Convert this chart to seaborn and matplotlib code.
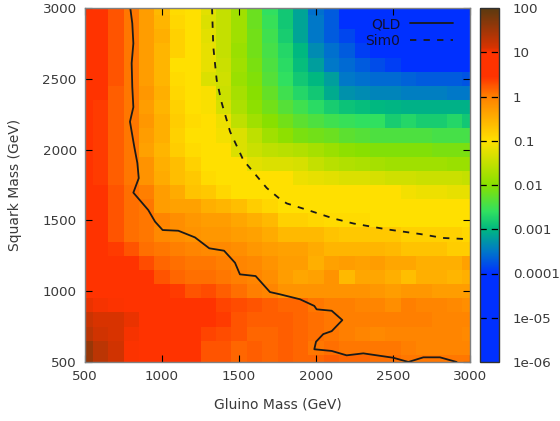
import numpy as np
import pandas as pd
import matplotlib
matplotlib.use("Agg")
import matplotlib.pyplot as plt
from matplotlib.colors import LinearSegmentedColormap, LogNorm
import seaborn as sns

gluino = list(range(500, 3100, 100))
squark = list(range(3000, 400, -100))

# log10 of the plotted quantity, one row per squark mass (top row = 3000 GeV)
r3000 = [.5,.5,.25,.05,-.3,-.6,-.95,-1,-1.25,-1.5,-1.8,-2.2,-2.6, -2.85,-3.15,-3.55,-3.7,-4.2,-4.6,-5,-5,-5,-5,-5,-5,-5]
r2900 = [.5,.5,.25,.05,-.3,-.55,-.9,-1,-1.3,-1.5,-1.8,-2.2,-2.55, -2.85,-3.15,-3.5,-3.7,-4,-4.3,-5,-5,-5,-5,-5,-5,-5]
r2800 = [.55,.45,.25,.05,-.3,-.5,-.85,-1,-1.25,-1.5,-1.8,-2.15,-2.5, -2.8,-3.15,-3.5,-3.7,-3.85,-4.2,-5,-5,-5,-5,-5,-5,-5]
r2700 = [.7,.45,.25,.05,-.3,-.55,-.85,-1,-1.2,-1.5,-1.85,-2.15,-2.45, -2.7,-3,-3.35,-3.55,-3.7,-3.9,-4.1,-4.5,-4.5,-5,-5,-5,-5]
r2600 = [.7,.45,.25,.05,-.3,-.55,-1,-1,-1.2,-1.45,-1.8,-2.1,-2.4, -2.65,-2.95,-3.2,-3.5,-3.6,-3.7,-3.8,-3.9,-4,-4,-4,-4.1,-4.1]
r2500 = [.55,.45,.25,.05,-.3,-.55,-.95,-1,-1.3,-1.4,-1.85,-2.05,-2.35, -2.6,-2.85,-3,-3.2,-3.5,-3.55,-3.6,-3.6,-3.65,-3.7,-3.7,-3.7,-3.75]
r2400 = [.5,.45,.2,.05,-.25,-.5,-.9,-1,-1.05,-1.45,-1.75,-2,-2.25, -2.5,-2.7,-2.85,-3.1,-3.3,-3.35,-3.4,-3.4,-3.45,-3.45,-3.45,-3.5,-3.5]
r2300 = [.5,.4,.2,.05,-.3,-.55,-.85,-1,-1.05,-1.35,-1.7,-1.95,-2.15, -2.35,-2.5,-2.65,-2.8,-2.9,-2.95,-3,-3.02,-3.05,-3.05,-3.05,-3.05,-3.05]
r2200 = [.5,.4,.2,.05,-.25,-.5,-.8,-.95,-1,-1.15,-1.55,-1.8,-2.0, -2.15,-2.3,-2.4,-2.5,-2.55,-2.6,-2.6,-2.8,-2.7,-2.8,-2.8,-2.7,-2.85]
r2100 = [.5,.4,.2,.05,-.3,-.5,-.85,-1,-1,-1.1,-1.3,-1.55,-1.8, -1.95,-2.1,-2.15,-2.2,-2.3,-2.35,-2.4,-2.4,-2.4,-2.4,-2.45,-2.45,-2.45]
r2000 = [.5,.4,.2,.05,-.35,-.55,-.8,-.95,-1,-1,-1.3,-1.45,-1.55, -1.6,-1.65,-1.75,-1.85,-1.95,-2,-2.05,-2.05,-2.05,-2.05,-2.1,-2.1,-2.1]
r1900 = [.55,.4,.2,.05,-.2,-.5,-.65,-.85,-1,-1,-1,-1.25,-1.3, -1.3,-1.35,-1.5,-1.6,-1.65,-1.7,-1.75,-1.8,-1.8,-1.8,-1.8,-1.85,-1.85]
r1800 = [.55,.4,.2,.05,-.2,-.45,-.65,-.75,-.95,-1,-1,-1,-1, -1.0,-1.15,-1.2,-1.25,-1.3,-1.3,-1.35,-1.4,-1.4,-1.45,-1.45,-1.45,-1.5]
r1700 = [.95,.55,.25,.1,0,-.3,-.45,-.7,-.75,-.9,-1,-1,-1, -1,-1,-1,-1,-1,-1,-1,-1,-1.1,-1.15,-1.15,-1.2,-1.2]
r1600 = [.7,.55,.25,.1,.05,-.3,-.35,-.35,-.5,-.55,-.65,-.8,-.9, -1,-1,-1,-1,-1,-1,-1,-1,-1,-1,-1,-1,-1]
r1500 = [.6,.55,.25,.1,.05,-.05,-.15,-.25,-.3,-.3,-.4,-.5,-.6, -.85,-.85,-.9,-.95,-.95,-.95,-1,-1,-1,-1,-1,-1,-1]
r1400 = [.6,.55,.25,.1,.05,-.1,-.15,-.2,-.25,-.25,-.3,-.35,-.45, -.6,-.6,-.6,-.7,-.75,-.75,-.75,-.75,-.85,-.85,-.85,-.85,-.9]
r1300 = [.9,.55,.4,.25,.1,.05,0,-.05,-.1,-.1,-.15,-.25,-.3, -.35,-.35,-.45,-.55,-.55,-.55,-.55,-.6,-.7,-.7,-.7,-.8,-.8]
r1200 = [.7,.55,.55,.5,.3,.15,.1,.05,.05,0,-.05,-.1,-.2, -.3,-.3,-.5,-.35,-.3,-.35,-.3,-.4,-.4,-.5,-.5,-.5,-.35]
r1100 = [.7,.6,.55,.5,.5,.25,.15,.1,.1,.05,0,-.05,-.15, -.3,-.4,-.35,-.2,-.6,-.4,-.4,-.5,-.65,-.5,-.5,-.55,-.5]
r1000 = [.75,.6,.55,.5,.5,.45,.4,.25,.3,.2,.1,0,-.05, -.2,-.2,-.2,-.2,-.2,-.2,-.25,-.3,-.25,-.25,-.3,-.3,-.3]
r900 = [1.05,1.02,1.0,.9,.6,.6,.6,.55,.5,.35,.3,.25,.2, .15,.15,.05,0,0,-.05,-.05,-.15,0,-.05,-.05,-.1,-.15]
r800 = [1.2,1.1,1.1,1.05,.6,.6,.6,.6,.6,.4,.25,.2,.2, .2,.15,.1,.05,0,0,0,0,0,0,-.05,-.05,-.05]
r700 = [1.3,1.15,1.1,1.02,.6,.6,.6,.55,.35,.3,.25,.15,.15, .2,.15,.1,.05,0,-.05,-.1,-.05,-.05,-.05,-.05,-.05,-.1]
r600 = [1.55,1.3,1.15,1.0,.6,.6,.5,.5,.25,.25,.15,.2,.15, .2,.15,.05,.1,.05,.05,.05,.05,0,-.05,-.05,-.05,-.05]
r500 = [1.55,1.3,1.15,1.0,.6,.6,.5,.5,.25,.25,.15,.2,.15, .2,.15,.15,.2,.15,.15,.1,.1,.05,.05,.05,.05,.05]

rows = [r3000, r2900, r2800, r2700, r2600, r2500, r2400, r2300, r2200, r2100, r2000, r1900, r1800,
        r1700, r1600, r1500, r1400, r1300, r1200, r1100, r1000, r900, r800, r700, r600, r500]

qld_x = [794,807,814,803,807,814,792,820,840,849,814,911,955,1004,1106,1214,1307,1403,1474,1506,1608,1701,1766,1896,1989,2004,2102,2171,2102,2047,2000,1989,2102,2199,2307,2502,2600,2697,2805,2913]
qld_y = [3000,2892,2750,2610,2444,2300,2197,2020,1905,1798,1696,1573,1491,1432,1427,1380,1303,1286,1201,1119,1107,994,978,943,896,872,862,796,718,697,643,590,578,547,561,530,500,533,533,500]
sim_x = [1325,1333,1355,1388,1442,1528,1680,1766,1810,1961,2112,2244,2459,2675,2825,3000]
sim_y = [3000,2727,2492,2329,2127,1926,1729,1651,1620,1568,1514,1478,1437,1404,1376,1367]

cbar_ticks = [1e-6, 1e-5, 1e-4, 1e-3, 1e-2, 1e-1, 1, 10, 100]
cbar_labels = ["1e-06", "1e-05", "0.0001", "0.001", "0.01", "0.1", "1", "10", "100"]

sns.set_style("white")
plt.rcParams["font.family"] = ["DejaVu Sans"]
TXT = "#3a3a3a"

# palette nodes on the log10 axis (-6 .. 2)
nodes = [(-6, "#0030ff"), (-4, "#0030ff"), (-3.5, "#0078c8"), (-3, "#00b880"), (-2.6, "#30e060"),
         (-2, "#88e000"), (-1, "#ffe000"), (0, "#ff8000"), (0.45, "#ff3300"), (1, "#ff3300"),
         (1.1, "#d83300"), (2, "#5a3a10")]
cmap = LinearSegmentedColormap.from_list("gp", [((v + 6) / 8, c) for v, c in nodes], N=1024)

W, H = 560, 421
fig = plt.figure(figsize=(W / 100, H / 100), dpi=100)
pos = [85 / W, (H - 362) / H, 385 / W, 354 / H]
ax = fig.add_axes(pos)
cax = fig.add_axes([480 / W, (H - 362) / H, 19 / W, 354 / H])

df = pd.DataFrame(10.0 ** np.array(rows), index=squark, columns=gluino)
sns.heatmap(df, ax=ax, cmap=cmap, norm=LogNorm(1e-6, 100), cbar_ax=cax, linewidths=0,
            xticklabels=False, yticklabels=False)
ax.set_xlim(0.5, 25.5)
ax.set_ylim(25.5, 0.5)
ax.set_xlabel("")
ax.set_ylabel("")
ax.tick_params(length=0)
for s in ax.spines.values():
    s.set_visible(False)

# colour bar
cb = ax.collections[0].colorbar
cb.set_ticks(cbar_ticks, labels=cbar_labels)
cb.minorticks_off()
cax.tick_params(length=0, labelsize=9.7, labelcolor=TXT, pad=10)
cb.outline.set_visible(True)
cb.outline.set_edgecolor("#303030")
cb.outline.set_linewidth(1)
for t in cbar_ticks[1:-1]:
    cax.axhline(t, color="black", lw=0.9, ls=(0, (5, 4)))

# physical-units overlay
top = fig.add_axes(pos, facecolor="none")
sns.lineplot(x=qld_x, y=qld_y, sort=False, estimator=None, ax=top, color="#1a1a1a", lw=1.3,
             label="QLD")
sns.lineplot(x=sim_x, y=sim_y, sort=False, estimator=None, ax=top, color="#1a1a1a", lw=1.3,
             ls=(0, (3.5, 4)), label="Sim0")
top.set_xlim(500, 3000)
top.set_ylim(500, 3000)
top.set_xticks(range(500, 3001, 500))
top.set_yticks(range(500, 3001, 500))
top.tick_params(axis="both", which="major", direction="in", length=5, width=0.8, color="black",
                labelsize=9.7, labelcolor=TXT, top=True, right=True, bottom=True, left=True, pad=6)
for s in top.spines.values():
    s.set_color("#808080")
    s.set_linewidth(1)
top.set_xlabel("Gluino Mass (GeV)", fontsize=10, color=TXT)
top.set_ylabel("Squark Mass (GeV)", fontsize=10, color=TXT)
top.xaxis.set_label_coords(0.5, -(398 - 362) / 354)
top.yaxis.set_label_coords(-(85 - 22) / 385, 0.5)
leg = top.legend(loc="upper right", bbox_to_anchor=(1 - 17 / 385, 1 - 9 / 354), frameon=False, markerfirst=False,
                 fontsize=10, labelspacing=0.2, handlelength=3.1, handletextpad=0.7,
                 borderpad=0, borderaxespad=0)
for t in leg.get_texts():
    t.set_color("#101030")

fig.savefig("out.png", dpi=100)
